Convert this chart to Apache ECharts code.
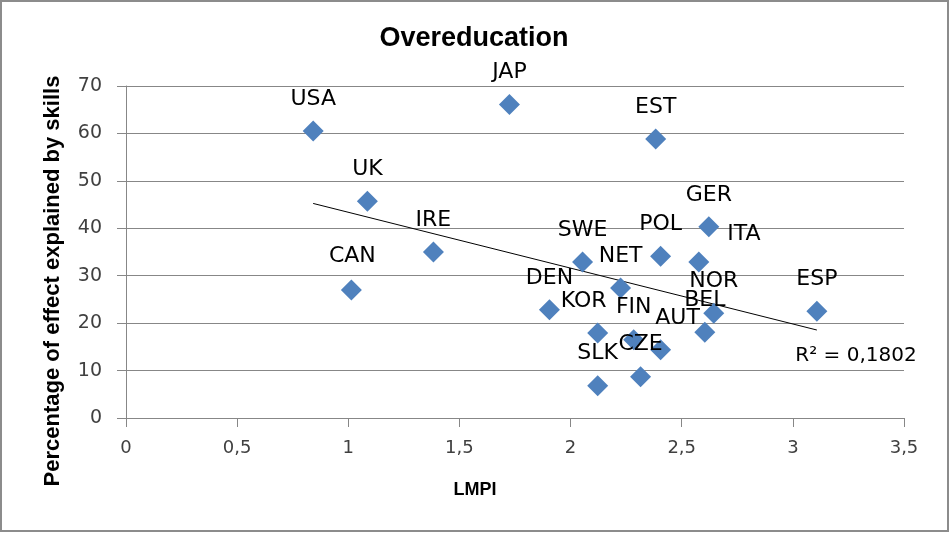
<!DOCTYPE html>
<html>
<head>
<meta charset="utf-8">
<script src="https://cdn.jsdelivr.net/npm/echarts@6/dist/echarts.min.js"></script>
<style>
html,body{margin:0;padding:0;background:#fff;}
#c{width:950px;height:533px;}
</style>
</head>
<body>
<div id="c"></div>
<script>
// ---- data ----
var countries = ['USA','JAP','EST','UK','IRE','CAN','ESP','GER','POL','SWE','ITA','NET','DEN','NOR','BEL','KOR','FIN','AUT','CZE','SLK'];
var lmpi      = [0.842,1.725,2.383,1.086,1.383,1.014,3.108,2.622,2.405,2.054,2.577,2.225,1.905,2.644,2.604,2.122,2.284,2.405,2.315,2.122];
var skillPct  = [60.5,66.1,58.8,45.7,35.0,27.0,22.5,40.3,34.1,32.9,32.9,27.4,22.8,22.1,18.1,17.9,16.5,14.4,8.7,6.8];
var xTicks = [0,0.5,1,1.5,2,2.5,3,3.5];
var yTicks = [0,10,20,30,40,50,60,70];
var r2Text = 'R² = 0,1802';
var titleText = 'Overeducation';
var xName = 'LMPI';
var yName = 'Percentage of effect explained by skills';

// label offsets (layout only)
var labelOffsets = {ITA:[45,-28], AUT:[17,-31], KOR:[-14,-32], CAN:[1,-34]};

// linear trend (OLS) computed from the data
var n = lmpi.length, sx=0, sy=0, sxx=0, sxy=0;
for (var i=0;i<n;i++){ sx+=lmpi[i]; sy+=skillPct[i]; sxx+=lmpi[i]*lmpi[i]; sxy+=lmpi[i]*skillPct[i]; }
var slope = (n*sxy - sx*sy)/(n*sxx - sx*sx);
var icpt = (sy - slope*sx)/n;
var xmin = Math.min.apply(null,lmpi), xmax = Math.max.apply(null,lmpi);
var trend = [[xmin, icpt+slope*xmin],[xmax, icpt+slope*xmax]];

var pts = countries.map(function(c,i){
  var off = labelOffsets[c] || [0,-32];
  return {name:c, value:[lmpi[i], skillPct[i]], label:{offset:off}};
});

var chart = echarts.init(document.getElementById('c'), null, {renderer:'canvas'});
var gray = '#878787';
chart.setOption({
  animation:false,
  backgroundColor:'#ffffff',
  grid:{left:126, right:46, top:86, bottom:115},
  xAxis:{
    type:'value', min:0, max:3.5, interval:0.5,
    axisLine:{show:true, onZero:false, lineStyle:{color:gray, width:1}},
    axisTick:{show:true, length:9, inside:false, lineStyle:{color:gray}},
    splitLine:{show:false},
    axisLabel:{margin:21, color:'#404040', fontSize:18, fontFamily:'DejaVu Sans',
      formatter:function(v){ return String(v).replace('.',','); }}
  },
  yAxis:{
    type:'value', min:0, max:70, interval:10,
    axisLine:{show:true, lineStyle:{color:gray, width:1}},
    axisTick:{show:true, length:9, inside:false, lineStyle:{color:gray}},
    splitLine:{show:true, lineStyle:{color:gray, width:1}},
    axisLabel:{margin:24, color:'#404040', fontSize:19, fontFamily:'DejaVu Sans'}
  },
  series:[
    {
      type:'line', data:trend, symbol:'none', silent:true,
      lineStyle:{color:'#000000', width:1}, z:2
    },
    {
      type:'scatter', data:pts, symbol:'diamond', symbolSize:[21,21],
      itemStyle:{color:'#4F81BD', opacity:1}, z:3,
      label:{show:true, position:'inside', formatter:'{b}', color:'#000000',
        fontSize:22, fontFamily:'DejaVu Sans', textBorderWidth:0}
    }
  ],
  graphic:[
    {type:'rect', shape:{x:1, y:1, width:947, height:530}, style:{fill:'none', stroke:'#8c8c8c', lineWidth:2}, silent:true},
    {type:'text', x:474, y:39, style:{text:titleText, fontSize:27, fontWeight:'bold', fontFamily:'Liberation Sans', fill:'#000', align:'center', verticalAlign:'middle'}},
    {type:'text', x:475, y:490, style:{text:xName, fontSize:18, fontWeight:'bold', fontFamily:'Liberation Sans', fill:'#000', align:'center', verticalAlign:'middle'}},
    {type:'text', x:53, y:281, rotation:Math.PI/2, style:{text:yName, fontSize:22, fontWeight:'bold', fontFamily:'Liberation Sans', fill:'#000', align:'center', verticalAlign:'middle'}},
    {type:'text', x:856, y:356, style:{text:r2Text, fontSize:20, fontFamily:'DejaVu Sans', fill:'#000', align:'center', verticalAlign:'middle'}}
  ]
});
</script>
</body>
</html>
